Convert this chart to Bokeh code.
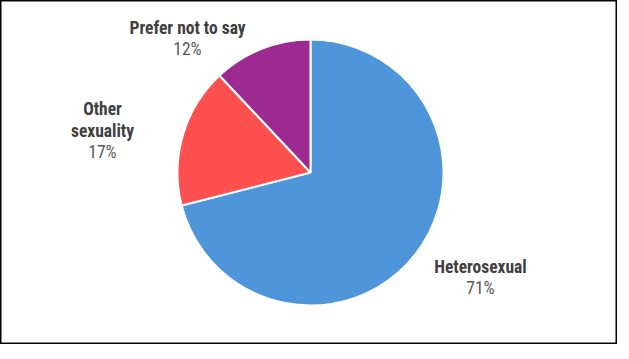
import math
from bokeh.plotting import figure
from bokeh.models import ColumnDataSource, Range1d
from bokeh.core.properties import value
from bokeh.embed import file_html
from bokeh.resources import INLINE

# ---- data ----
categories = ["Heterosexual", "Other sexuality", "Prefer not to say"]
label_lines = [["Heterosexual"], ["Other", "sexuality"], ["Prefer not to say"]]
shares = [71, 17, 12]
colors = ["#4E95D9", "#FF5050", "#9C2A90"]

# ---- layout (pixels) ----
W, H = 617, 344
cx, cy, R = 310, 172, 133
# label centre offsets from pie centre (pixels, y up)
label_offsets = [(170, -105), (-208, 42), (-123, 134)]
line_h = 21.5

p = figure(width=W, height=H, output_backend="svg", toolbar_location=None,
           x_range=Range1d(0, W), y_range=Range1d(0, H), min_border=0)
p.axis.visible = False
p.grid.visible = False
p.outline_line_color = "#000000"
p.outline_line_width = 2
p.background_fill_color = "white"
p.border_fill_color = "white"

total = sum(shares)
starts, ends = [], []
cum = 0.0
for s in shares:
    starts.append(math.pi / 2 - 2 * math.pi * cum / total)
    cum += s
    ends.append(math.pi / 2 - 2 * math.pi * cum / total)

src = ColumnDataSource(dict(x=[cx] * 3, y=[cy] * 3, start=starts, end=ends,
                            color=colors, cat=categories))
p.wedge(x="x", y="y", radius=R, start_angle="start", end_angle="end",
        direction="clock", fill_color="color", line_color="white",
        line_width=2, source=src)

nx, ny, nt, px, py, pt = [], [], [], [], [], []
for lines, s, (dx, dy) in zip(label_lines, shares, label_offsets):
    n = len(lines) + 1
    top = cy + dy + (n - 1) * line_h / 2
    for i, ln in enumerate(lines):
        nx.append(cx + dx); ny.append(top - i * line_h); nt.append(ln)
    px.append(cx + dx); py.append(top - len(lines) * line_h)
    pt.append(f"{round(100 * s / total)}%")

font = value("Liberation Sans Narrow, Roboto Condensed, Roboto, sans-serif")
p.text(x=nx, y=ny, text=nt, text_align="center", text_baseline="middle",
       text_font=font, text_font_style="bold", text_font_size="17.5px",
       text_color="#404040")
p.text(x=px, y=py, text=pt, text_align="center", text_baseline="middle",
       text_font=font, text_font_size="17.5px", text_color="#595959")

open("out.html", "w").write(file_html(p, INLINE))
